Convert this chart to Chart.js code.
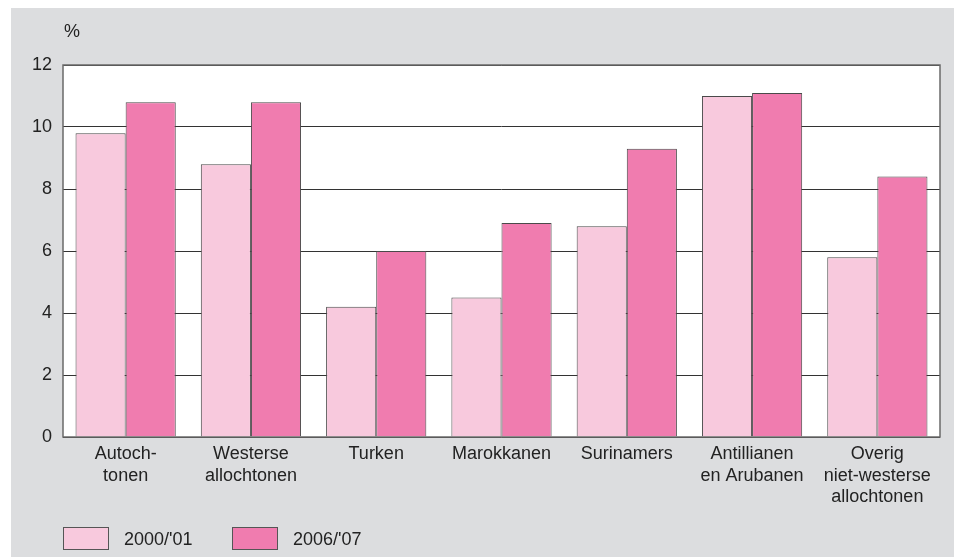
<!DOCTYPE html>
<html>
<head>
<meta charset="utf-8">
<script src="https://cdn.jsdelivr.net/npm/chart.js@4/dist/chart.umd.min.js"></script>
<style>
html,body{margin:0;padding:0;background:#fff;}
#wrap{width:954px;height:557px;position:relative;}
</style>
</head>
<body>
<div id="wrap"><canvas id="c" width="954" height="557"></canvas></div>
<script>
const categories = [
  ["Autoch-","tonen"],
  ["Westerse","allochtonen"],
  ["Turken"],
  ["Marokkanen"],
  ["Surinamers"],
  ["Antillianen","en Arubanen"],
  ["Overig","niet-westerse","allochtonen"]
];
const seriesNames = ["2000/'01", "2006/'07"];
const values2000 = [9.8, 8.8, 4.2, 4.5, 6.8, 11.0, 5.8];
const values2006 = [10.8, 10.8, 6.0, 6.9, 9.3, 11.1, 8.4];
const yTicks = [0, 2, 4, 6, 8, 10, 12];
const colors = ["#f8c9dd", "#f07caf"];

const FONT = "'Liberation Sans', Arial, sans-serif";

const bgPlugin = {
  id: 'bg',
  beforeDraw(chart) {
    const ctx = chart.ctx;
    ctx.save();
    ctx.fillStyle = '#dcdddf';
    ctx.fillRect(11, 8, chart.width - 11, chart.height - 8);
    const a = chart.chartArea;
    ctx.fillStyle = '#ffffff';
    ctx.fillRect(a.left, a.top, a.right - a.left, a.bottom - a.top);
    ctx.restore();
  },
  afterDatasetsDraw(chart) {
    const ctx = chart.ctx;
    const a = chart.chartArea;
    ctx.save();
    ctx.strokeStyle = '#6a6a6a';
    ctx.lineWidth = 1.5;
    ctx.strokeRect(a.left, a.top, a.right - a.left, a.bottom - a.top);
    // % label
    ctx.fillStyle = '#222';
    ctx.font = "18px " + FONT;
    ctx.textBaseline = 'middle';
    ctx.textAlign = 'left';
    ctx.fillText('%', 64, 32);
    // legend
    const items = chart.data.datasets;
    const xs = [63, 232];
    items.forEach((ds, i) => {
      const x = xs[i];
      ctx.fillStyle = ds.backgroundColor;
      ctx.fillRect(x, 527, 45, 22);
      ctx.strokeStyle = '#555';
      ctx.lineWidth = 1;
      ctx.strokeRect(x + 0.5, 527.5, 45, 22);
      ctx.fillStyle = '#222';
      ctx.font = "18px " + FONT;
      ctx.fillText(ds.label, x + 61, 540);
    });
    ctx.restore();
  }
};

new Chart(document.getElementById('c'), {
  type: 'bar',
  data: {
    labels: categories,
    datasets: [
      { label: seriesNames[0], data: values2000, backgroundColor: colors[0], borderColor: '#4a4a4a', borderWidth: 1 },
      { label: seriesNames[1], data: values2006, backgroundColor: colors[1], borderColor: '#4a4a4a', borderWidth: 1 }
    ]
  },
  options: {
    responsive: false,
    animation: false,
    layout: { padding: { left: 0, top: 65, right: 14, bottom: 0 } },
    plugins: { legend: { display: false }, tooltip: { enabled: false } },
    datasets: { bar: { categoryPercentage: 0.8, barPercentage: 1.0 } },
    scales: {
      x: {
        grid: { display: false, drawTicks: false },
        border: { display: false },
        ticks: { color: '#222', font: { family: FONT, size: 18, lineHeight: 1.17 }, padding: 7, maxRotation: 0, autoSkip: false },
        afterFit(s) { s.height = 120; }
      },
      y: {
        min: 0, max: 12,
        afterBuildTicks(s) { s.ticks = yTicks.map(v => ({ value: v })); },
        grid: { color: '#333', lineWidth: 1, drawTicks: false },
        border: { display: false },
        ticks: { color: '#222', font: { family: FONT, size: 18 }, padding: 11 },
        afterFit(s) { s.width = 63; }
      }
    }
  },
  plugins: [bgPlugin]
});
</script>
</body>
</html>
